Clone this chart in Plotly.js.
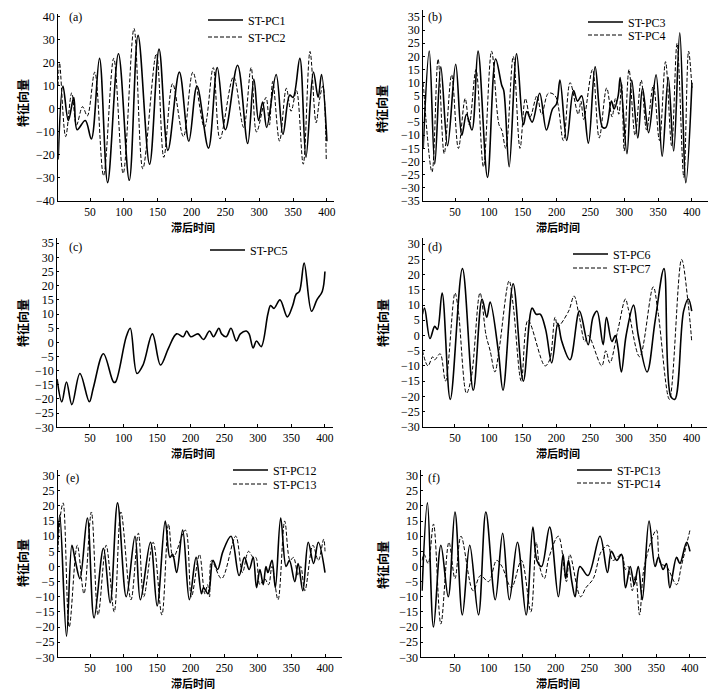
<!DOCTYPE html>
<html><head><meta charset="utf-8">
<script src="https://cdn.plot.ly/plotly-3.0.1.min.js"></script>
<style>html,body{margin:0;padding:0;background:#fff}</style>
</head><body><div id="chart" style="width:715px;height:691px"></div>
<script>
// ---- data ----
const xTicks = [50,100,150,200,250,300,350,400];

const pc1_x = [3,10,18,26,31,43,52,64,76,92,108,121,138,152,165,182,196,208,225,238,250,268,283,292,299,305,311,325,335,345,350,360,369,380,387,392,400];
const pc1_y = [-22,10,-5,5,-9,-5,-13,22,-32,24,-31,32,-24,26,-18,16,-14,10,-17,18,-9,19,-15,13,-5,3,-8,15,-11,6,5,22,-21,16,5,15,-14];
const pc2_x = [3,5,14,23,30,39,46,57,70,85,99,115,128,148,159,172,188,202,219,232,242,262,277,288,296,310,315,320,330,340,347,355,365,375,384,389,394,399];
const pc2_y = [10,20,-12,7,-7,1,-3,16,-29,22,-28,35,-26,24,-21,11,-12,16,-8,18,-13,14,-8,18,-10,5,-7,12,-14,9,-1,8,-24,25,-6,4,10,-22];

const pc3_x = [3,12,20,29,39,51,60,67,75,84,98,110,119,122,130,141,151,156,164,175,185,194,200,205,215,225,231,237,247,257,268,273,281,285,291,294,304,311,320,327,336,347,356,365,373,382,391,400];
const pc3_y = [-15,22,-21,16,-14,17,-10,-2,-8,22,-26,19,9,7,-22,21,-6,-1,-5,6,-8,0,2,11,-12,7,3,5,-13,16,-7,-7,3,0,5,12,-17,11,-11,8,-9,13,-18,12,-16,29,-28,10];
const pc4_x = [3,16,25,34,45,55,65,71,81,92,104,115,119,125,136,146,154,161,171,178,188,198,210,220,232,236,240,253,263,274,282,287,292,296,300,307,316,325,333,343,352,361,370,378,388,395,400];
const pc4_y = [10,-24,19,-17,13,-15,4,-6,15,-22,22,-6,-8,-15,20,-15,4,-3,5,-2,6,5,-12,10,-2,3,-4,15,-11,8,-3,4,-2,10,-16,15,-10,11,-8,9,-12,18,-14,25,-26,22,8];

const pc5_x = [1,8,15,23,35,49,55,70,85,88,104,110,120,129,143,155,167,179,189,194,200,211,219,228,234,242,246,253,260,268,274,283,287,293,298,305,315,319,324,333,344,352,357,362,369,380,388,396,400];
const pc5_y = [-13,-21,-14,-22,-11,-21,-16,-4,-14,-14,2,5,-11,-8,3,-8,-2,3,2,4,2,3,1,4,2,5,3,2,5,0.5,3,4,3,-2,0.5,-1.5,10,13,12,15,9,13,17,18,28,11,15,18,25];

const pc6_x = [2,5,13,20,24,31,43,61,77,90,97,102,114,121,136,151,164,170,176,184,193,202,208,220,234,247,254,260,269,274,282,287,291,296,303,314,321,334,346,359,369,375,388,395,400];
const pc6_y = [7,9,-1,3,2,14,-21,22,-18,12,6,11,-5,-18,17,-15,9,7,7,2,-9,4,-2,-8,8,-3,6,8,-3,6,-2,0,-4,-12,0,10,0,-12,5,22,-20,-21,8,12,8];
const pc7_x = [2,10,17,20,28,36,50,55,67,74,87,96,102,109,115,130,136,148,158,183,190,198,202,218,226,234,242,247,267,273,279,291,302,306,323,343,350,367,385,395,400];
const pc7_y = [-5,-10,-7,-8,-6,-15,14,8,-19,-14,14,0,-5,-12,-5,18,10,-15,5,-10,-8,6,3,8,13,6,-2,0,-10,-5,-9,2,12,9,-7,16,8,-21,25,10,-2];

const pc12e_x = [1,5,15,23,28,35,46,56,70,80,91,104,117,125,140,150,162,169,173,179,188,198,208,216,219,226,233,240,248,260,272,280,287,293,298,303,308,312,315,321,326,334,342,347,355,360,367,375,383,390,400];
const pc12e_y = [5,17,-23,7,2,-4,16,-17,6,-12,21,-10,10,-11,8,-13,15,3,4,-2,12,-11,3,-9,-7,-9,2,-1,5,10,-3,3,-1,3,-7,-1,-6,0,-2,2,-7,16,0,2,-5,1,-8,8,1,8,-2];
const pc13e_x = [2,6,10,19,31,41,52,62,74,86,96,111,122,130,144,157,167,174,192,201,213,221,225,228,231,246,267,277,286,293,297,303,310,316,321,330,340,348,353,360,364,370,382,390,398,400];
const pc13e_y = [5,17,21,-20,7,-9,18,-16,7,-15,18,-11,11,-10,8,-16,14,3,12,-10,4,-9,-6,-10,2,-4,10,-2,5,3,3,-6,-4,-6,0,-11,15,2,3,-3,0,-8,7,2,9,5];

const pc13f_x = [1,9,18,29,40,50,61,72,85,96,110,121,131,143,156,166,172,179,191,204,211,215,219,224,229,236,248,266,277,283,291,298,304,311,317,323,329,339,348,353,360,365,370,380,385,395,400];
const pc13f_y = [-8,21,-20,7,-10,18,-16,7,-16,18,-11,11,-11,8,-16,13,2,0,13,-10,4,-4,2,-5,-10,0,-3,10,-2,5,2,4,-7,0,-6,0,-11,15,0,3,-1,1,-7,3,1,8,5];
const pc14f_x = [1,4,10,18,29,41,50,59,77,88,100,112,120,134,149,163,171,176,183,190,204,216,221,237,245,256,268,278,285,298,304,308,314,319,325,332,350,356,365,380,387,400];
const pc14f_y = [2,4,1,14,-19,8,-4,10,-8,-3,-5,2,0,-7,2,-15,8,0,-4,3,10,-5,4,-10,-7,-4,5,7,2,4,-1,0,-8,-3,-16,0,12,1,0,-6,0,12];

const panelLabels = ['(a)','(b)','(c)','(d)','(e)','(f)'];
const yTitle = '特征向量';
const xTitle = '滞后时间';

// ---- layout helpers ----
const W = 715, H = 691;
const fx = p => p / W, fy = p => 1 - p / H;
const serif = 'Liberation Serif, Times New Roman, serif';
const cjk = 'Noto Sans CJK SC, sans-serif';

// series: [x, y, name, dash, axis index, legend line start px, legend row px]
const series = [
  [pc1_x, pc1_y, 'ST-PC1', 'solid', 1, 208, 20],
  [pc2_x, pc2_y, 'ST-PC2', 'dash', 1, 208, 37],
  [pc3_x, pc3_y, 'ST-PC3', 'solid', 2, 588, 22],
  [pc4_x, pc4_y, 'ST-PC4', 'dash', 2, 588, 35],
  [pc5_x, pc5_y, 'ST-PC5', 'solid', 3, 210, 250],
  [pc6_x, pc6_y, 'ST-PC6', 'solid', 4, 573, 254],
  [pc7_x, pc7_y, 'ST-PC7', 'dash', 4, 573, 268],
  [pc12e_x, pc12e_y, 'ST-PC12', 'solid', 5, 233, 470],
  [pc13e_x, pc13e_y, 'ST-PC13', 'dash', 5, 233, 484],
  [pc13f_x, pc13f_y, 'ST-PC13', 'solid', 6, 577, 470],
  [pc14f_x, pc14f_y, 'ST-PC14', 'dash', 6, 577, 483]
];

// panel geometry: x range, x domain px, y range, y domain px (bottom, top), y tick step
const panels = [
  {xr:[3,410], xd:[58.2,333.7], yr:[-40,41.5], yd:[201,13.5], ys:10, yt:[-40,40]},
  {xr:[3,424], xd:[423.2,708.2], yr:[-35,37.5], yd:[201,10.4], ys:5, yt:[-35,35]},
  {xr:[1,412], xd:[57.1,333], yr:[-30,37], yd:[427.3,237.6], ys:5, yt:[-30,35]},
  {xr:[3,422], xd:[423.2,706.6], yr:[-30,32], yd:[426.7,238.2], ys:5, yt:[-30,30]},
  {xr:[2,425], xd:[57.8,341.8], yr:[-30,32], yd:[657.3,469.6], ys:5, yt:[-30,30]},
  {xr:[0,424], xd:[421.4,706.1], yr:[-30,32], yd:[657.3,469.6], ys:5, yt:[-30,30]}
];
const labelPos = [[75,17],[435,17],[75,247],[435,247],[72,478],[434,478]];
const yTitlePos = [[22,103],[382,109],[22,323],[382,323],[22,563],[382,565]];
const xTitlePos = [[193,227],[558,227],[193,453],[558,453],[193,683],[558,683]];

const traces = [];
const layout = {
  width: W, height: H,
  margin: {l:0, r:0, t:0, b:0},
  paper_bgcolor: '#fff', plot_bgcolor: 'rgba(0,0,0,0)',
  showlegend: true,
  font: {family: serif, color: '#000', size: 12},
  annotations: []
};

series.forEach((s, i) => {
  const k = s[4];
  const legName = i === 0 ? 'legend' : 'legend' + (i + 1);
  traces.push({
    x: s[0], y: s[1], name: s[2], type: 'scatter', mode: 'lines',
    xaxis: k === 1 ? 'x' : 'x' + k, yaxis: k === 1 ? 'y' : 'y' + k,
    line: {color: '#000', width: s[3] === 'solid' ? 1.6 : 1.0, dash: s[3] === 'solid' ? 'solid' : '4px,2px', shape: 'spline', smoothing: 1},
    legend: legName, hoverinfo: 'skip'
  });
  layout[legName] = {
    x: fx(s[5] - 5), y: fy(s[6]), xanchor: 'left', yanchor: 'middle',
    bgcolor: 'rgba(0,0,0,0)', borderwidth: 0, itemwidth: 35,
    font: {family: serif, size: 12, color: '#000'}
  };
});

panels.forEach((p, i) => {
  const k = i + 1;
  const xa = k === 1 ? 'xaxis' : 'xaxis' + k;
  const ya = k === 1 ? 'yaxis' : 'yaxis' + k;
  const yvals = [];
  for (let v = p.yt[0]; v <= p.yt[1]; v += p.ys) yvals.push(v);
  layout[xa] = {
    domain: [fx(p.xd[0]), fx(p.xd[1])], range: p.xr, anchor: k === 1 ? 'y' : 'y' + k,
    showline: true, linecolor: '#000', linewidth: 1, showgrid: false, zeroline: false,
    ticks: 'inside', ticklen: 3, tickcolor: '#000', tickvals: xTicks,
    tickfont: {family: serif, size: 11.5, color: '#000'}, fixedrange: true
  };
  layout[ya] = {
    domain: [fy(p.yd[0]), fy(p.yd[1])], range: p.yr, anchor: k === 1 ? 'x' : 'x' + k,
    showline: true, linecolor: '#000', linewidth: 1, showgrid: false, zeroline: false,
    ticks: 'inside', ticklen: 2, tickcolor: '#000', tickvals: yvals,
    tickfont: {family: serif, size: 12, color: '#000'}, fixedrange: true
  };
  layout.annotations.push({
    text: panelLabels[i], xref: 'paper', yref: 'paper', x: fx(labelPos[i][0]), y: fy(labelPos[i][1]),
    xanchor: 'center', yanchor: 'middle', showarrow: false, font: {family: serif, size: 12, color: '#000'}
  });
  layout.annotations.push({
    text: yTitle, xref: 'paper', yref: 'paper', x: fx(yTitlePos[i][0]), y: fy(yTitlePos[i][1]),
    xanchor: 'center', yanchor: 'middle', textangle: -90, showarrow: false,
    font: {family: cjk, size: 12, color: '#000', weight: 'bold'}
  });
  layout.annotations.push({
    text: xTitle, xref: 'paper', yref: 'paper', x: fx(xTitlePos[i][0]), y: fy(xTitlePos[i][1]),
    xanchor: 'center', yanchor: 'middle', showarrow: false,
    font: {family: cjk, size: 11, color: '#000', weight: 'bold'}
  });
});

Plotly.newPlot('chart', traces, layout, {displayModeBar: false, staticPlot: true});
</script></body></html>
